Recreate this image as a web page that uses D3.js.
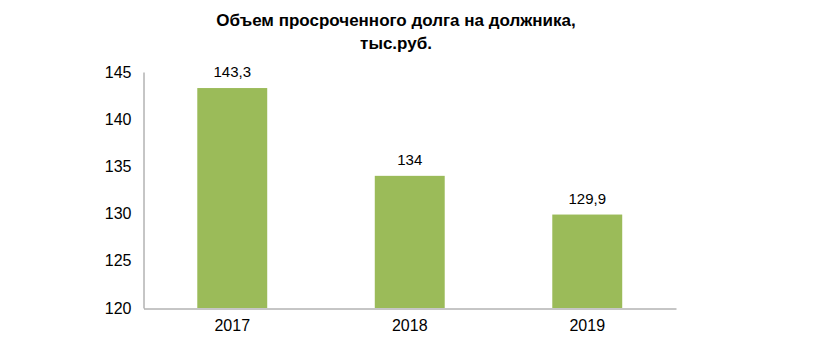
<!DOCTYPE html>
<html>
<head>
<meta charset="utf-8">
<script src="https://cdn.jsdelivr.net/npm/d3@7"></script>
<style>
  body { margin: 0; background: #fff; }
  text { font-family: "Liberation Sans", Arial, sans-serif; }
</style>
</head>
<body>
<svg id="chart"></svg>
<script>
// Data
const years = ["2017", "2018", "2019"];
const debt = [143.3, 134, 129.9];
const yTicks = [120, 125, 130, 135, 140, 145];

const width = 840;
const height = 348;

const svg = d3.select("#chart")
  .attr("width", width)
  .attr("height", height);

// Title
const title = svg.append("text")
  .attr("text-anchor", "middle")
  .style("font-size", "17px")
  .style("font-weight", "bold")
  .style("fill", "#000");
title.append("tspan").attr("x", 396).attr("y", 26).text("Объем просроченного долга на должника,");
title.append("tspan").attr("x", 396).attr("y", 49).text("тыс.руб.");

// Scales
const x = d3.scaleBand()
  .domain(years)
  .range([143.5, 676])
  .paddingInner(0.606)
  .paddingOuter(0.303);

const y = d3.scaleLinear()
  .domain([120, 145])
  .range([308, 72]);

// Bars
svg.selectAll(".bar")
  .data(debt)
  .enter().append("rect")
  .attr("class", "bar")
  .attr("x", (d, i) => x(years[i]))
  .attr("y", d => y(d))
  .attr("width", x.bandwidth())
  .attr("height", d => y(120) - y(d))
  .attr("fill", "#9bbb59");

// Value labels
svg.selectAll(".val")
  .data(debt)
  .enter().append("text")
  .attr("class", "val")
  .attr("x", (d, i) => x(years[i]) + x.bandwidth() / 2)
  .attr("y", d => y(d) - 11)
  .attr("text-anchor", "middle")
  .style("font-size", "15px")
  .style("fill", "#000")
  .text(d => String(d).replace(".", ","));

// Y axis
const yAxis = svg.append("g")
  .attr("transform", "translate(143.5,0)")
  .call(d3.axisLeft(y).tickValues(yTicks).tickSize(0).tickPadding(12).tickFormat(d3.format("d")));
yAxis.select(".domain").attr("stroke", "#8c8c8c");
yAxis.selectAll("text")
  .style("font-size", "16px")
  .style("fill", "#000")
  .style("font-family", "'Liberation Sans', Arial, sans-serif");

// X axis
const xAxis = svg.append("g")
  .attr("transform", "translate(0,308.5)")
  .call(d3.axisBottom(x).tickSize(0).tickPadding(11));
xAxis.select(".domain").attr("stroke", "#8c8c8c");
xAxis.selectAll("text")
  .style("font-size", "16px")
  .style("fill", "#000")
  .style("font-family", "'Liberation Sans', Arial, sans-serif");
</script>
</body>
</html>
